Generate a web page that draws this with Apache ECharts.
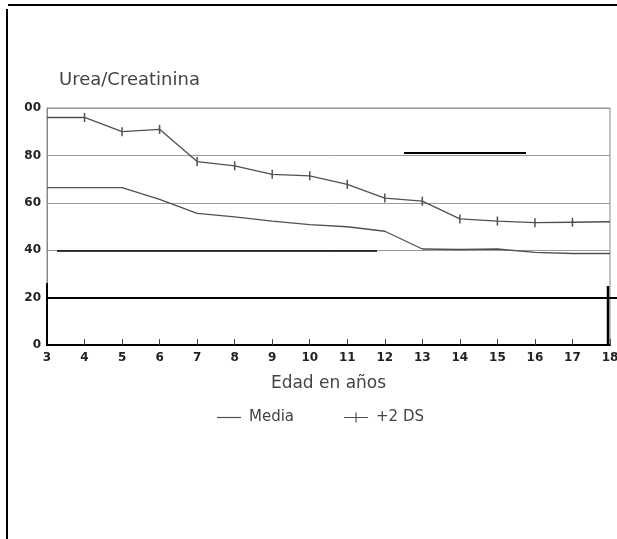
<!DOCTYPE html>
<html>
<head>
<meta charset="utf-8">
<script src="https://cdn.jsdelivr.net/npm/echarts@6/dist/echarts.min.js"></script>
<style>
html,body{margin:0;padding:0;background:#fff;}
#c{width:617px;height:539px;}
</style>
</head>
<body>
<div id="c"></div>
<script>
// ---- data ----
var ages = [3, 4, 5, 6, 7, 8, 9, 10, 11, 12, 13, 14, 15, 16, 17, 18];
var media = [66.4, 66.4, 66.4, 61.4, 55.5, 54.1, 52.3, 50.8, 49.9, 48.0, 40.5, 40.3, 40.5, 39.1, 38.6, 38.6];
var ds2 = [96.0, 96.0, 90.0, 91.0, 77.4, 75.6, 72.0, 71.4, 67.8, 62.0, 60.7, 53.2, 52.3, 51.6, 51.8, 52.0];
var yTickLabels = ['0', '20', '40', '60', '80', '00'];
var seriesNames = ['Media', '+2 DS'];
var titleText = 'Urea/Creatinina';
var xTitle = 'Edad en años';

var lineColor = '#505050';
var chart = echarts.init(document.getElementById('c'), null, {renderer: 'canvas'});

function pairs(vals) {
  return vals.map(function (v, i) { return [ages[i], v]; });
}
function tickedPairs(vals) {
  return vals.map(function (v, i) {
    var d = {value: [ages[i], v]};
    if (i === 0 || i === vals.length - 1) d.symbol = 'none';
    return d;
  });
}

var iconLine = 'path://M0,4.4L24,4.4L24,5.6L0,5.6Z';
var iconTick = 'path://M0,4.4L11.4,4.4L11.4,0L12.6,0L12.6,4.4L24,4.4L24,5.6L12.6,5.6L12.6,10L11.4,10L11.4,5.6L0,5.6Z';

var black = {stroke: '#000', lineWidth: 2};
chart.setOption({
  animation: false,
  backgroundColor: '#fff',
  title: {
    text: titleText,
    left: 54, top: 66,
    textStyle: {fontFamily: 'DejaVu Sans', fontSize: 18, fontWeight: 'normal', color: '#444'}
  },
  legend: {
    left: 212, top: 405,
    itemWidth: 24, itemHeight: 10, itemGap: 50,
    textStyle: {fontFamily: 'DejaVu Sans', fontSize: 15, color: '#444', padding: [0, 0, 0, 3]},
    data: [
      {name: seriesNames[0], icon: iconLine},
      {name: seriesNames[1], icon: iconTick}
    ]
  },
  grid: {
    left: 47, right: 7, top: 108, bottom: 194,
    outerBoundsMode: 'none', containLabel: false,
    show: true, borderColor: '#888', borderWidth: 1
  },
  xAxis: {
    type: 'value', min: 3, max: 18, interval: 1,
    name: xTitle, nameLocation: 'middle', nameGap: 30,
    nameTextStyle: {fontFamily: 'DejaVu Sans', fontSize: 17, color: '#444'},
    axisLine: {show: true, lineStyle: {color: '#000', width: 2}},
    axisTick: {show: true, inside: true, length: 6, lineStyle: {color: '#444', width: 1}},
    axisLabel: {fontFamily: 'DejaVu Sans', fontWeight: 'bold', fontSize: 12, color: '#222', margin: 7},
    splitLine: {show: false}
  },
  yAxis: {
    type: 'value', min: 0, max: 100, interval: 20,
    axisLine: {show: true, lineStyle: {color: '#888', width: 1}},
    axisTick: {show: false},
    axisLabel: {
      fontFamily: 'DejaVu Sans', fontWeight: 'bold', fontSize: 12, color: '#222', margin: 6,
      formatter: function (v) { return yTickLabels[Math.round(v / 20)]; }
    },
    splitLine: {show: true, lineStyle: {color: '#9a9a9a', width: 1}}
  },
  series: [
    {
      name: seriesNames[0], type: 'line', data: pairs(media),
      symbol: 'none', smooth: false,
      lineStyle: {color: lineColor, width: 1.3},
      itemStyle: {color: lineColor}
    },
    {
      name: seriesNames[1], type: 'line', data: tickedPairs(ds2),
      symbol: 'rect', symbolSize: [1.5, 9], showSymbol: true,
      lineStyle: {color: lineColor, width: 1.3},
      itemStyle: {color: lineColor}
    }
  ],
  graphic: [
    {type: 'line', shape: {x1: 8, y1: 5, x2: 617, y2: 5}, style: black, silent: true, z: 100},
    {type: 'line', shape: {x1: 7, y1: 9, x2: 7, y2: 539}, style: black, silent: true, z: 100},
    {type: 'line', shape: {x1: 404, y1: 153, x2: 526, y2: 153}, style: black, silent: true, z: 100},
    {type: 'line', shape: {x1: 57, y1: 251, x2: 377, y2: 251}, style: {stroke: '#000', lineWidth: 1.5}, silent: true, z: 100},
    {type: 'line', shape: {x1: 47, y1: 298, x2: 617, y2: 298}, style: black, silent: true, z: 100},
    {type: 'line', shape: {x1: 47, y1: 283, x2: 47, y2: 346}, style: black, silent: true, z: 100},
    {type: 'line', shape: {x1: 608, y1: 286, x2: 608, y2: 345}, style: {stroke: '#000', lineWidth: 2.5}, silent: true, z: 100}
  ]
});
</script>
</body>
</html>
